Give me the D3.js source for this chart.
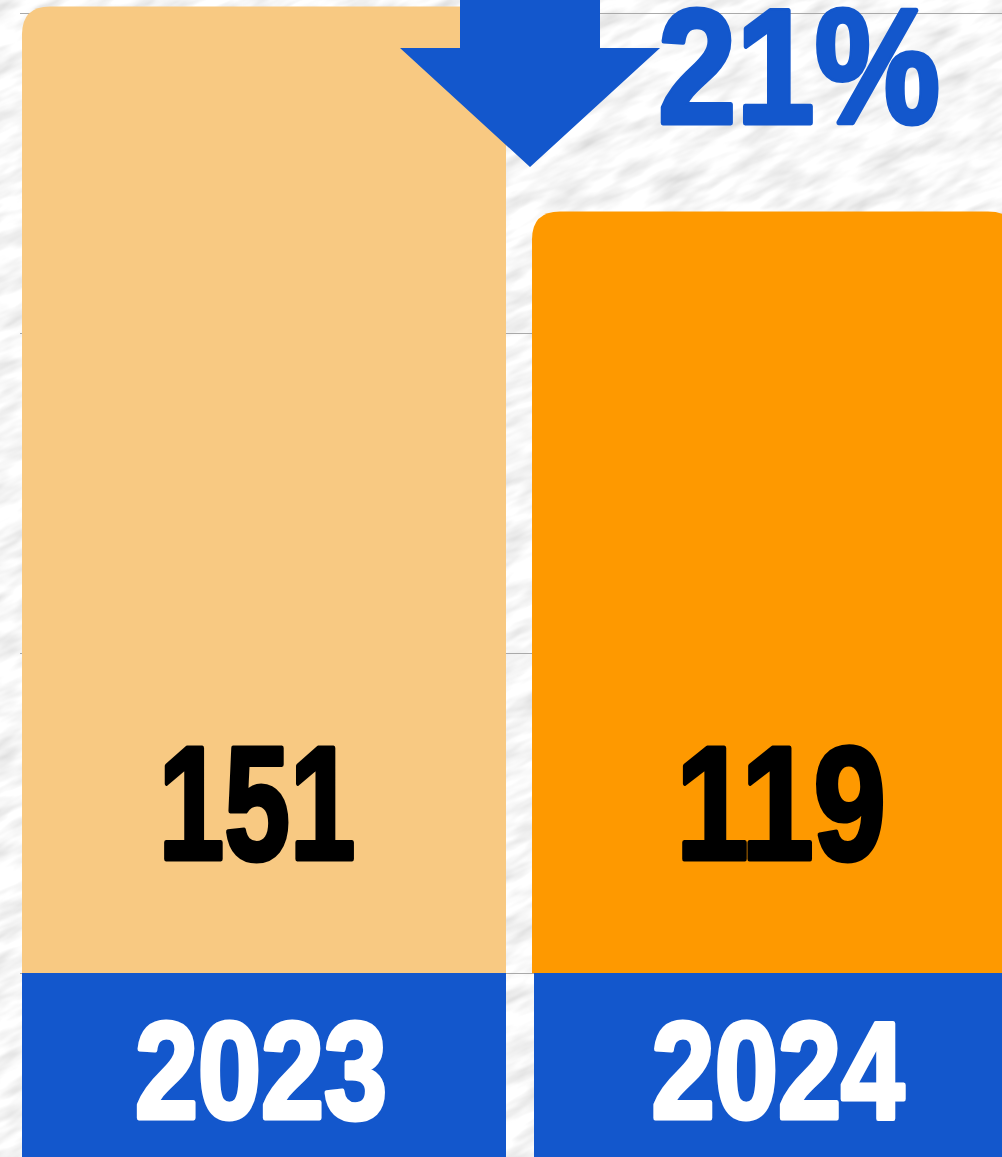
<!DOCTYPE html>
<html>
<head>
<meta charset="utf-8">
<script src="https://cdn.jsdelivr.net/npm/d3@7"></script>
<style>
    html, body { margin: 0; padding: 0; background: #ececec; overflow: hidden; }
    svg { display: block; }
</style>
</head>
<body>
<svg id="chart" width="1002" height="1157"></svg>
<script>
const years = ["2023", "2024"];
const values = [151, 119];
const barColors = ["#f8c982", "#fe9900"];
const gridTicks = [0, 50, 100, 150];

const blue = "#1357cc";
const labelFont = "'Liberation Sans', Arial, sans-serif";

const svg = d3.select("#chart"),
    width = +svg.attr("width"),
    height = +svg.attr("height");

const data = years.map((y, i) => ({ year: y, value: values[i], color: barColors[i] }));

// paper texture
const defs = svg.append("defs");
const paper = defs.append("filter")
    .attr("id", "paper")
    .attr("filterUnits", "userSpaceOnUse")
    .attr("x", -400).attr("y", -400).attr("width", 1900).attr("height", 2000);
paper.append("feTurbulence")
    .attr("type", "fractalNoise")
    .attr("baseFrequency", "0.02 0.07")
    .attr("numOctaves", 3)
    .attr("seed", 7);
paper.append("feColorMatrix")
    .attr("type", "matrix")
    .attr("values", "0.55 0 0 0 0.66  0.55 0 0 0 0.66  0.55 0 0 0 0.66  0 0 0 0 1");

svg.append("g")
    .attr("transform", "rotate(-25 500 578)")
    .append("rect")
    .attr("x", -400).attr("y", -400)
    .attr("width", 1900).attr("height", 2000)
    .attr("filter", "url(#paper)");

const x = d3.scaleBand()
    .domain(years)
    .range([22, 1016])
    .paddingInner(0.051)
    .paddingOuter(0);

const y = d3.scaleLinear()
    .domain([0, 150])
    .range([973, 13]);

// grid
svg.append("g")
    .selectAll("line")
    .data(gridTicks)
    .join("line")
    .attr("x1", 20)
    .attr("x2", width)
    .attr("y1", d => Math.round(y(d)) + 0.5)
    .attr("y2", d => Math.round(y(d)) + 0.5)
    .attr("stroke", "#a9a9a9")
    .attr("stroke-width", 1.2);

function topRounded(x0, y0, w, h, r) {
    return `M${x0},${y0 + h}V${y0 + r}Q${x0},${y0} ${x0 + r},${y0}` +
        `H${x0 + w - r}Q${x0 + w},${y0} ${x0 + w},${y0 + r}V${y0 + h}Z`;
}

svg.append("g")
    .selectAll("path")
    .data(data)
    .join("path")
    .attr("d", d => topRounded(x(d.year), y(d.value), x.bandwidth(), y(0) - y(d.value), 28))
    .attr("fill", d => d.color);

// year boxes
svg.append("g")
    .selectAll("rect")
    .data(data)
    .join("rect")
    .attr("x", (d, i) => x(d.year) + (i ? 2 : 0))
    .attr("y", y(0))
    .attr("width", x.bandwidth())
    .attr("height", height - y(0) + 5)
    .attr("fill", blue);

// squeeze a label horizontally to a target width (condensed look)
function heavy(sel, size, fill) {
    sel.attr("font-family", labelFont)
        .attr("font-weight", "bold")
        .attr("font-size", size)
        .attr("fill", fill)
        .attr("stroke", fill)
        .attr("stroke-width", 5)
        .attr("stroke-linejoin", "round")
        .attr("paint-order", "stroke");
}

function placeText(sel, cx, baseline, targetW) {
    sel.each(function () {
        const bb = this.getBBox();
        const sx = targetW / bb.width;
        d3.select(this)
            .attr("x", -bb.width / 2)
            .attr("transform", `translate(${cx},${baseline}) scale(${sx},1)`);
    });
}

const valueW = [197, 210], valueCx = [257, 781];
const yearW = [252, 253], yearCx = [261, 778];

svg.append("g")
    .selectAll("text")
    .data(data)
    .join("text")
    .call(heavy, 162, "#000")
    .text(d => d.value)
    .each(function (d, i) {
        placeText(d3.select(this), valueCx[i], y(0) - 114, valueW[i]);
    });

svg.append("g")
    .selectAll("text")
    .data(data)
    .join("text")
    .call(heavy, 138, "#fff")
    .text(d => d.year)
    .each(function (d, i) {
        placeText(d3.select(this), yearCx[i], y(0) + 145, yearW[i]);
    });

// change arrow
const tipX = x(years[1]) - 2;
const arrow = [
    [tipX - 70, -5], [tipX + 70, -5], [tipX + 70, 48],
    [tipX + 130, 48], [tipX, 167], [tipX - 130, 48], [tipX - 70, 48]
];
svg.append("path")
    .attr("d", d3.line()(arrow) + "Z")
    .attr("fill", blue);

const pct = Math.round((values[0] - values[1]) / values[0] * 100);
svg.append("text")
    .call(heavy, 164, blue)
    .text(pct + "%")
    .call(placeText, 799, 123, 282);
</script>
</body>
</html>
